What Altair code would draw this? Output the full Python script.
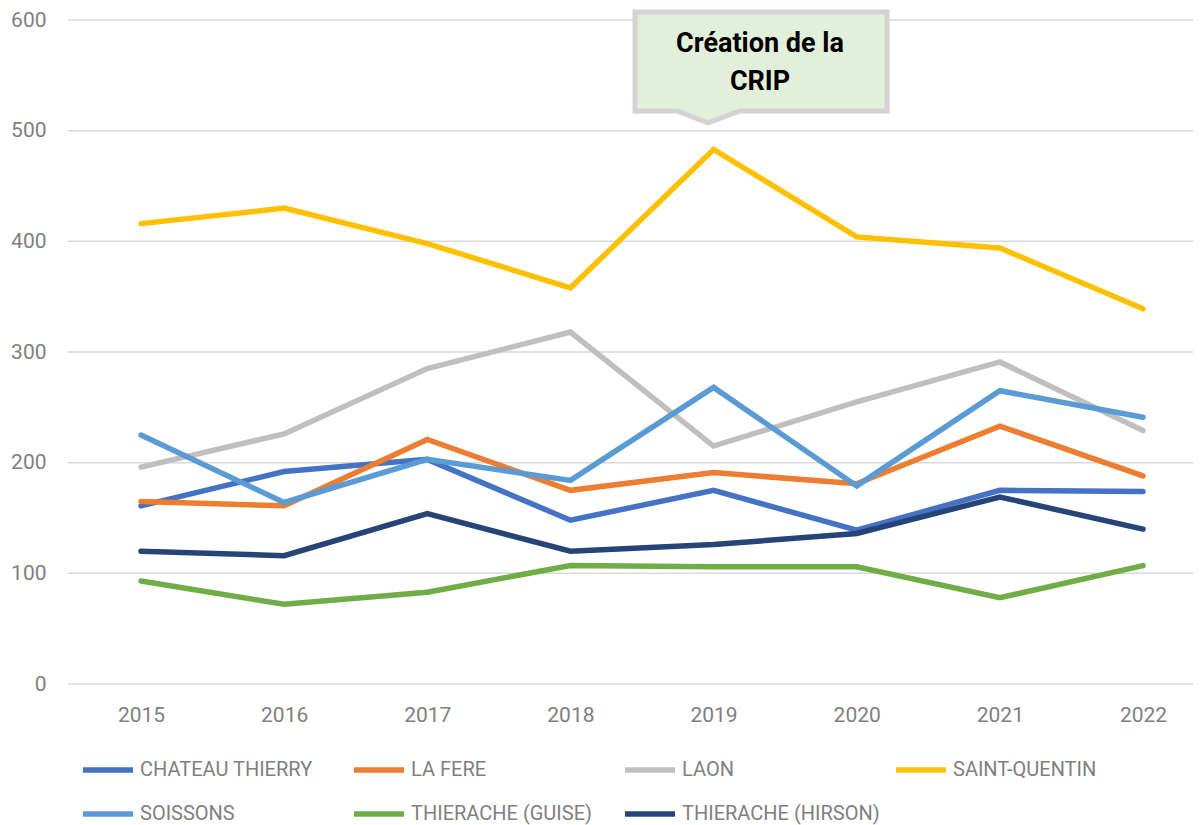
import altair as alt
import pandas as pd

years = ["2015", "2016", "2017", "2018", "2019", "2020", "2021", "2022"]
series_names = ["CHATEAU THIERRY", "LA FERE", "LAON", "SAINT-QUENTIN",
                "SOISSONS", "THIERACHE (GUISE)", "THIERACHE (HIRSON)"]
chateau_thierry = [161, 192, 203, 148, 175, 139, 175, 174]
la_fere = [165, 161, 221, 175, 191, 181, 233, 188]
laon = [196, 226, 285, 318, 215, 255, 291, 229]
saint_quentin = [416, 430, 398, 358, 483, 404, 394, 339]
soissons = [225, 164, 203, 184, 268, 179, 265, 241]
thierache_guise = [93, 72, 83, 107, 106, 106, 78, 107]
thierache_hirson = [120, 116, 154, 120, 126, 136, 169, 140]
colors = ["#4472C4", "#ED7D31", "#BFBFBF", "#FFC000", "#5B9BD5", "#70AD47", "#264478"]
y_ticks = [0, 100, 200, 300, 400, 500, 600]
annotation_lines = ["Création de la", "CRIP"]

all_values = [chateau_thierry, la_fere, laon, saint_quentin, soissons,
              thierache_guise, thierache_hirson]
rows = []
for order, (name, vals) in enumerate(zip(series_names, all_values)):
    for yr, v in zip(years, vals):
        rows.append({"Année": yr, "Site": name, "Valeur": v, "ordre": order})
df = pd.DataFrame(rows)

W = 1125
H = 664
y_scale = alt.Scale(domain=[0, 600], nice=False)
y_axis = alt.Axis(title=None, values=y_ticks, domain=False, ticks=False,
                  labelPadding=22, labelFont="Roboto", labelFontSize=21,
                  labelColor="#7F7F7F", grid=False)

grid = alt.Chart(pd.DataFrame({"Valeur": y_ticks})).mark_rule(
    color="#D9D9D9", strokeWidth=1.5
).encode(
    y=alt.Y("Valeur:Q", scale=y_scale, axis=y_axis),
    x=alt.value(0), x2=alt.value(W),
)

lines = alt.Chart(df).mark_line(strokeWidth=5.5, strokeCap="round", strokeJoin="miter").encode(
    x=alt.X("Année:O", sort=years,
            scale=alt.Scale(type="point", range=[73, 1075], padding=0),
            axis=alt.Axis(title=None, labelAngle=0, domain=False, ticks=False,
                          labelPadding=20, labelFont="Roboto", labelFontSize=21,
                          labelColor="#7F7F7F", grid=False)),
    y=alt.Y("Valeur:Q", scale=y_scale, axis=y_axis),
    color=alt.Color("Site:N", sort=series_names,
                    scale=alt.Scale(domain=series_names, range=colors),
                    legend=alt.Legend(title=None, orient="none", legendX=12, legendY=722,
                                      direction="horizontal", columns=4,
                                      symbolType="stroke", symbolStrokeWidth=5.5,
                                      symbolSize=2500, labelFont="Roboto",
                                      labelFontSize=20, labelColor="#7F7F7F",
                                      labelOffset=4, labelLimit=400,
                                      gridAlign="all", columnPadding=5,
                                      rowPadding=5)),
    order=alt.Order("ordre:Q"),
    detail="Site:N",
)

callout_path = ("M -1 -0.44 L 1 -0.44 L 1 0.345 L -0.167 0.345 "
                "L -0.421 0.44 L -0.667 0.345 L -1 0.345 Z")
callout = alt.Chart(pd.DataFrame({"a": [0]})).mark_point(
    shape=callout_path, size=63504, filled=True, fill="#E2EFDA",
    stroke="#D3D3D3", strokeWidth=5, opacity=1, clip=False,
).encode(x=alt.value(693), y=alt.value(47.5))

callout_text = alt.Chart(pd.DataFrame({"a": [0]})).mark_text(
    text=annotation_lines, font="Roboto", fontWeight="bold", fontSize=27,
    color="#000000", align="center", baseline="middle", lineHeight=38, clip=False,
).encode(x=alt.value(692), y=alt.value(24))

chart = alt.layer(grid, lines, callout, callout_text).properties(
    width=W, height=H,
    autosize=alt.AutoSizeParams(type="none"),
    padding={"left": 60, "top": 12, "right": 0, "bottom": 142},
).configure(background="#FFFFFF").configure_view(stroke=None)

chart.save("out.html", embed_options={"renderer": "svg", "actions": False})
